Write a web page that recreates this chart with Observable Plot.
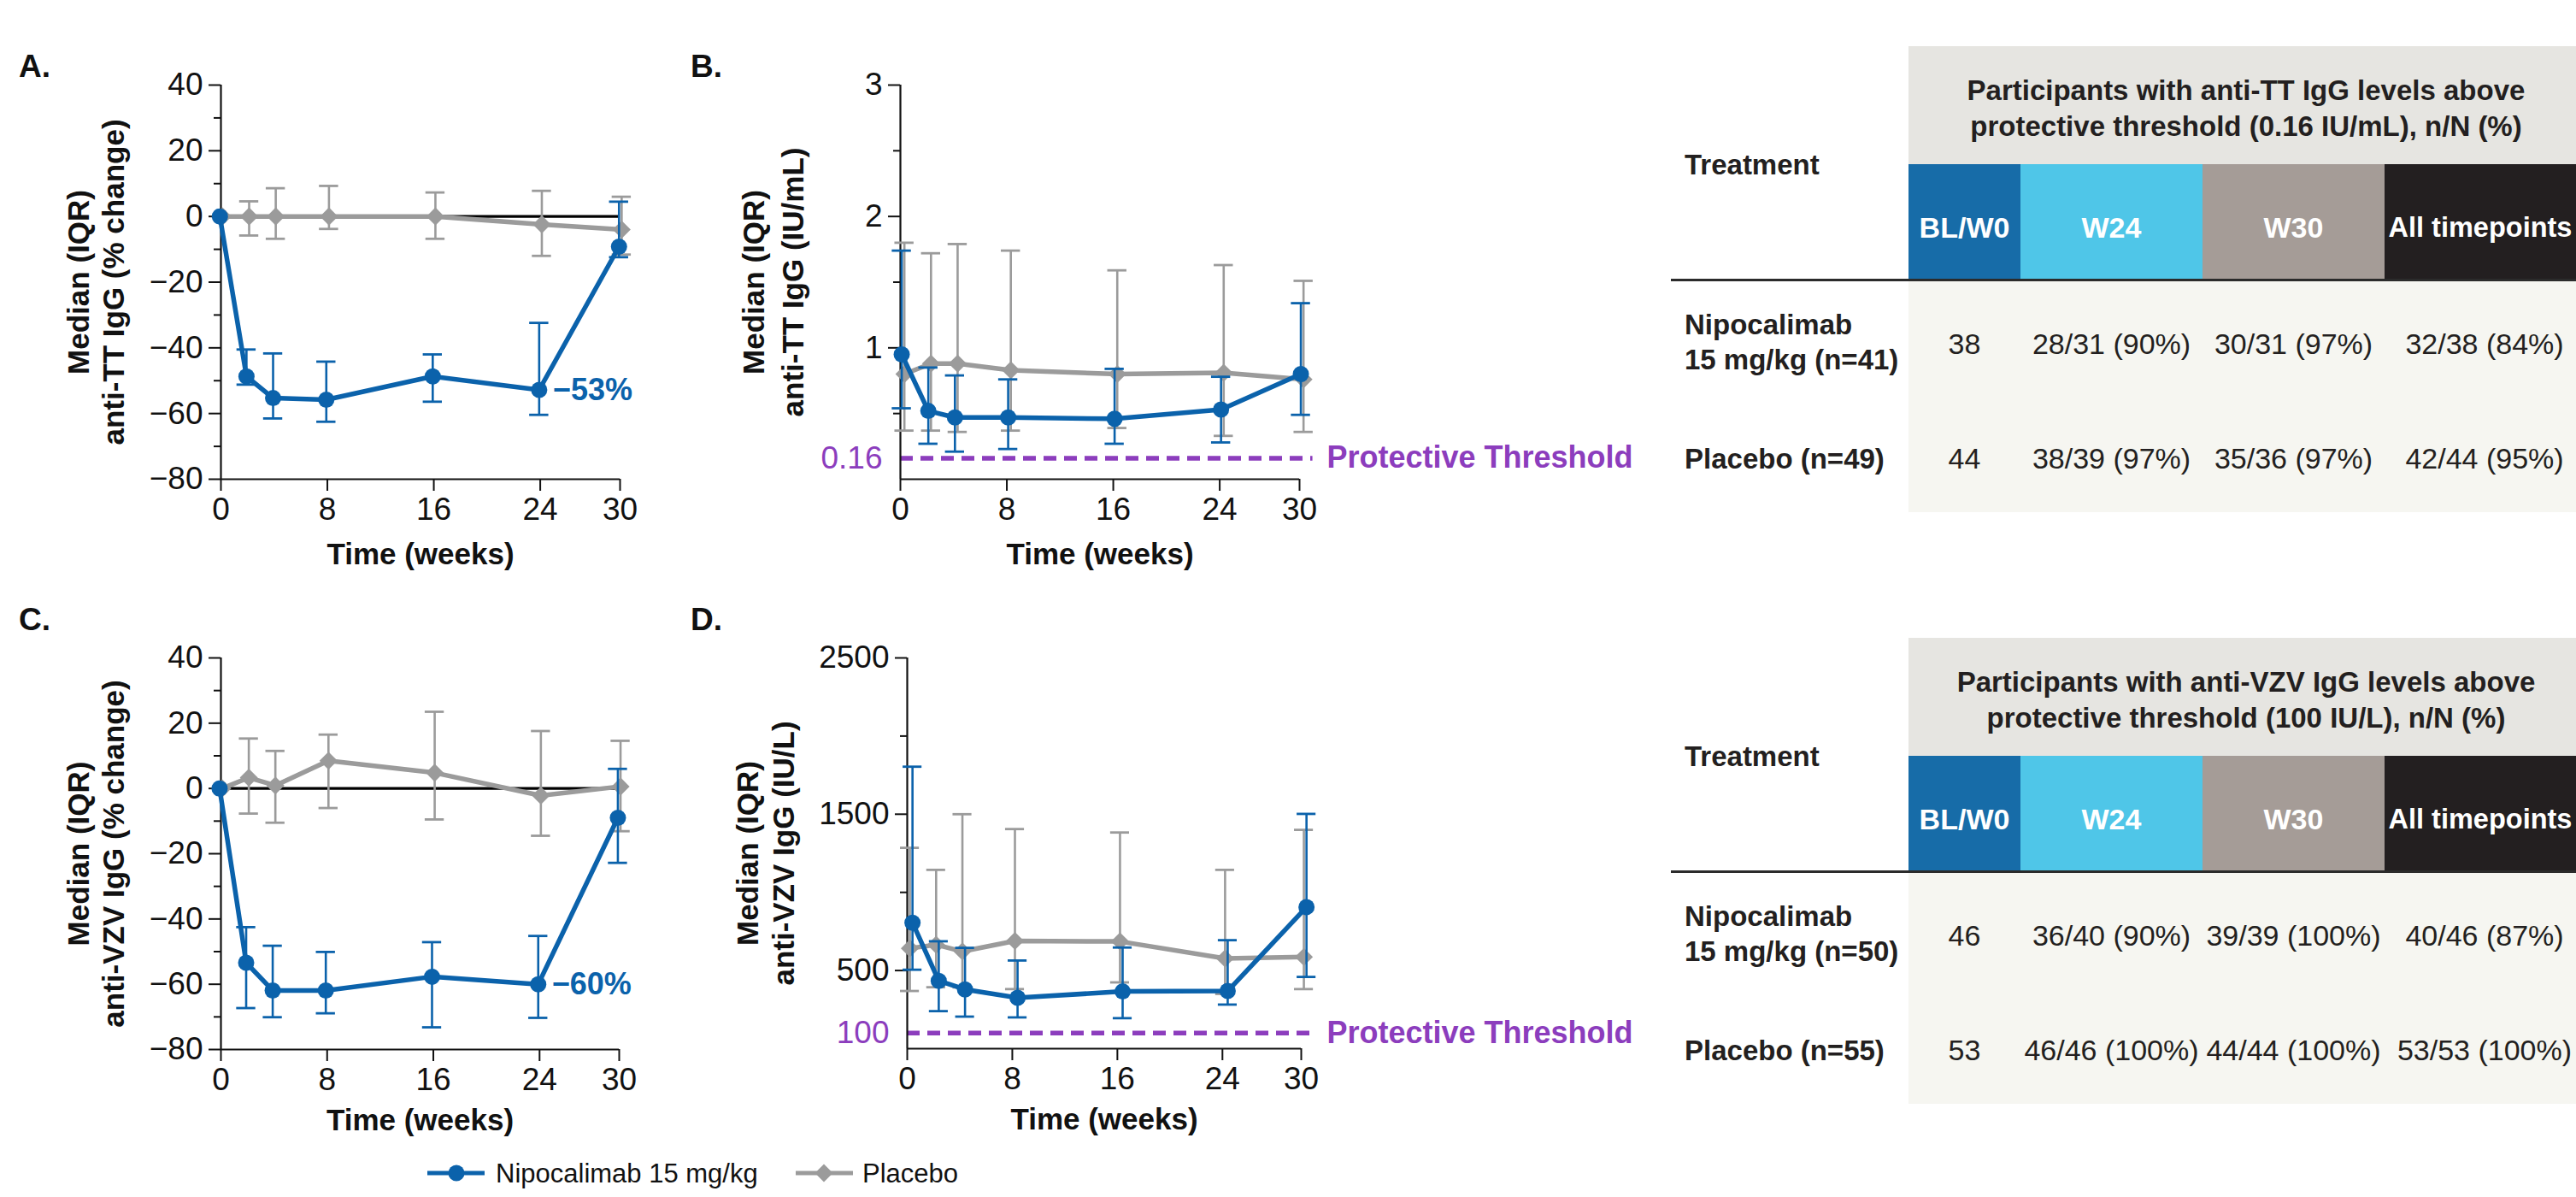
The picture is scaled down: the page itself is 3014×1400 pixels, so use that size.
<!DOCTYPE html>
<html>
<head>
<meta charset="utf-8">
<script src="https://cdn.jsdelivr.net/npm/d3@7"></script>
<script src="https://cdn.jsdelivr.net/npm/@observablehq/plot@0.6"></script>
<style>
html, body { margin: 0; padding: 0; background: #fff; }
#root { position: relative; width: 3014px; height: 1400px; overflow: hidden; background: #fff;
  font-family: "Liberation Sans", Arial, Helvetica, sans-serif; color: #231f20; }
.abs { position: absolute; white-space: nowrap; }
</style>
</head>
<body>
<div id="root"></div>
<script>
// ---------------- DATA ----------------
const weeks = [0, 2, 4, 8, 16, 24, 30];
const xTicks = [0, 8, 16, 24, 30];

// A. anti-TT IgG, % change from baseline (median, Q1, Q3)
const nipoA_med = [0, -48.7, -55.3, -55.8, -48.7, -52.8, -9.2];
const nipoA_lo  = [0, -51.2, -61.5, -62.5, -56.4, -60.4, -12.4];
const nipoA_hi  = [0, -40.5, -41.7, -44.2, -42.0, -32.4, 4.5];
const plaA_med  = [0, 0, 0, 0, 0, -2.4, -4.0];
const plaA_lo   = [0, -5.8, -6.8, -3.8, -6.8, -12.0, -11.6];
const plaA_hi   = [0, 4.6, 8.6, 9.3, 7.3, 7.8, 6.0];

// B. anti-TT IgG, IU/mL
const nipoB_med = [0.95, 0.52, 0.47, 0.47, 0.46, 0.53, 0.80];
const nipoB_lo  = [0.54, 0.27, 0.21, 0.23, 0.27, 0.28, 0.49];
const nipoB_hi  = [1.74, 0.85, 0.79, 0.76, 0.84, 0.78, 1.34];
const plaB_med  = [0.80, 0.88, 0.88, 0.83, 0.80, 0.81, 0.76];
const plaB_lo   = [0.37, 0.37, 0.36, 0.37, 0.39, 0.33, 0.36];
const plaB_hi   = [1.80, 1.72, 1.79, 1.74, 1.59, 1.63, 1.51];

// C. anti-VZV IgG, % change from baseline
const nipoC_med = [0, -53.4, -61.9, -61.9, -57.7, -60.0, -9.0];
const nipoC_lo  = [0, -67.3, -70.1, -68.9, -73.2, -70.3, -22.8];
const nipoC_hi  = [0, -42.5, -48.2, -50.1, -47.1, -45.2, 6.0];
const plaC_med  = [0, 3.3, 0.9, 8.5, 4.8, -2.2, 0.6];
const plaC_lo   = [0, -7.7, -10.5, -6.0, -9.5, -14.5, -13.1];
const plaC_hi   = [0, 15.3, 11.5, 16.5, 23.5, 17.6, 14.6];

// D. anti-VZV IgG, IU/L
const nipoD_med = [806, 434, 379, 325, 366, 369, 906];
const nipoD_lo  = [505, 240, 205, 200, 195, 282, 459];
const nipoD_hi  = [1804, 687, 645, 564, 647, 694, 1502];
const plaD_med  = [642, 665, 622, 689, 686, 577, 587];
const plaD_lo   = [369, 393, 392, 381, 424, 350, 381];
const plaD_hi   = [1285, 1144, 1500, 1405, 1383, 1144, 1400];

// Protective thresholds
const thresholdTT = 0.16;
const thresholdVZV = 100;
const thresholdText = "Protective Threshold";

// Tables
const tableColumns = ["BL/W0", "W24", "W30", "All timepoints"];
const ttTitle = ["Participants with anti-TT IgG levels above", "protective threshold (0.16 IU/mL), n/N (%)"];
const ttRowLabels = [["Nipocalimab", "15 mg/kg (n=41)"], ["Placebo (n=49)"]];
const ttValues = [["38", "28/31 (90%)", "30/31 (97%)", "32/38 (84%)"],
                  ["44", "38/39 (97%)", "35/36 (97%)", "42/44 (95%)"]];
const vzvTitle = ["Participants with anti-VZV IgG levels above", "protective threshold (100 IU/L), n/N (%)"];
const vzvRowLabels = [["Nipocalimab", "15 mg/kg (n=50)"], ["Placebo (n=55)"]];
const vzvValues = [["46", "36/40 (90%)", "39/39 (100%)", "40/46 (87%)"],
                   ["53", "46/46 (100%)", "44/44 (100%)", "53/53 (100%)"]];

const legendLabels = ["Nipocalimab 15 mg/kg", "Placebo"];

// ---------------- STYLE ----------------
const blue = "#0b62ab", gray = "#9b9b9b", purple = "#8c3dbd", ink = "#111111";
const FONT = '"Liberation Sans", Arial, Helvetica, sans-serif';
const root = document.getElementById("root");

function txt(str, x, cy, {fs = 33, weight = 400, color = "#231f20", anchor = "start"} = {}) {
  const el = document.createElement("div");
  el.className = "abs";
  el.textContent = str;
  el.style.fontSize = fs + "px";
  el.style.lineHeight = fs + "px";
  el.style.fontWeight = weight;
  el.style.color = color;
  el.style.top = (cy - 0.49 * fs) + "px";
  if (anchor === "middle") {
    el.style.left = (x - 1000) + "px"; el.style.width = "2000px"; el.style.textAlign = "center";
  } else {
    el.style.left = x + "px";
  }
  root.appendChild(el);
  return el;
}
function box(x, y, w, h, bg) {
  const el = document.createElement("div");
  el.className = "abs";
  Object.assign(el.style, {left: x + "px", top: y + "px", width: w + "px", height: h + "px", background: bg});
  root.appendChild(el);
  return el;
}

function series(name, med, lo, hi) {
  return weeks.map((w, i) => ({name, week: w, med: med[i], lo: lo[i], hi: hi[i]}));
}

function panel(cfg) {
  const mL = 320, mR = 460, mT = 40, mB = 140;
  const w = cfg.R - cfg.L, h = cfg.B - cfg.T;
  const cap = 0.72;
  const nipo = series("nipo", ...cfg.nipo);
  const pla = series("pla", ...cfg.pla);
  const group = (data, color, dodge, dot) => {
    const bars = data.filter(d => d.hi !== d.lo);
    const X = d => d.week + dodge;
    return [
      Plot.ruleX(bars, {x: X, y1: "lo", y2: "hi", stroke: color, strokeWidth: 2.6}),
      Plot.ruleY(bars, {y: "lo", x1: d => X(d) - cap, x2: d => X(d) + cap, stroke: color, strokeWidth: 2.8}),
      Plot.ruleY(bars, {y: "hi", x1: d => X(d) - cap, x2: d => X(d) + cap, stroke: color, strokeWidth: 2.8}),
      Plot.line(data, {x: X, y: "med", stroke: color, strokeWidth: 5.5, strokeLinejoin: "round"}),
      Plot.dot(data, {x: X, y: "med", fill: color, stroke: "none", ...dot})
    ];
  };
  const marks = [];
  if (cfg.zero) marks.push(Plot.ruleY([0], {stroke: "#000", strokeWidth: 3.2}));
  if (cfg.thr !== undefined) {
    marks.push(Plot.ruleY([cfg.thr], {x1: 0, x2: 31, stroke: purple, strokeWidth: 5.5, strokeDasharray: "15,9"}));
    marks.push(Plot.text([cfg.thr], {x: 30, y: d => d, text: () => thresholdText, textAnchor: "start", dx: cfg.thrDx,
      fill: purple, fontWeight: "bold", fontSize: 36}));
    marks.push(Plot.text([cfg.thr], {frameAnchor: "left", y: d => d, text: d => String(d), textAnchor: "end", dx: -21,
      fill: purple, fontSize: 37}));
  }
  marks.push(
    Plot.axisY({ticks: cfg.yMajor, tickSize: 14, tickPadding: 7, fontSize: 37, label: null, strokeWidth: 2,
      tickFormat: d => d < 0 ? "\u2212" + Math.abs(d) : String(d)}),
    Plot.axisY({ticks: cfg.yMinor, tickSize: 8, tickFormat: () => "", label: null, strokeWidth: 2}),
    Plot.axisX({ticks: xTicks, tickSize: 14, tickPadding: 7, fontSize: 37, label: null, strokeWidth: 2}),
    Plot.ruleX([0], {stroke: ink, strokeWidth: 2.2}),
    Plot.ruleY([cfg.yDomain[0]], {stroke: ink, strokeWidth: 2.2}),
    ...group(pla, gray, cfg.dP, {symbol: "diamond2", r: 9.5}),
    ...group(nipo, blue, cfg.dN, {symbol: "circle", r: 9.5}),
    Plot.text(["Time (weeks)"], {text: d => d, frameAnchor: "bottom", dy: cfg.xTitleDy, lineAnchor: "middle",
      textAnchor: "middle", fontSize: 35, fontWeight: "bold", fill: ink}),
    Plot.text([cfg.titles[0]], {text: d => d, frameAnchor: "left", rotate: -90, dx: cfg.tdx[0],
      textAnchor: "middle", lineAnchor: "middle", fontSize: 35, fontWeight: "bold", fill: ink}),
    Plot.text([cfg.titles[1]], {text: d => d, frameAnchor: "left", rotate: -90, dx: cfg.tdx[1],
      textAnchor: "middle", lineAnchor: "middle", fontSize: 35, fontWeight: "bold", fill: ink})
  );
  if (cfg.endLabel) {
    marks.push(Plot.text(nipo.filter(d => d.week === 24), {
      x: d => d.week + cfg.dN, y: "med", text: d => "\u2212" + Math.abs(Math.round(d.med)) + "%",
      textAnchor: "start", dx: 16, fill: blue, fontWeight: "bold", fontSize: 36}));
  }
  const svg = Plot.plot({
    width: w + mL + mR, height: h + mT + mB,
    marginLeft: mL, marginRight: mR, marginTop: mT, marginBottom: mB,
    x: {domain: [0, 30]},
    y: {domain: cfg.yDomain},
    style: {background: "transparent", fontFamily: FONT, color: ink, overflow: "visible", maxWidth: "none"},
    marks
  });
  svg.style.position = "absolute";
  svg.style.left = (cfg.L - mL) + "px";
  svg.style.top = (cfg.T - mT) + "px";
  root.appendChild(svg);
  txt(cfg.letter, cfg.letterX, cfg.letterY, {fs: 37, weight: 700, color: ink});
}

panel({letter: "A.", letterX: 22, letterY: 77, L: 258, R: 725, T: 99, B: 560, yDomain: [-80, 40],
  yMajor: [40, 20, 0, -20, -40, -60, -80], yMinor: [30, 10, -10, -30, -50, -70],
  nipo: [nipoA_med, nipoA_lo, nipoA_hi], pla: [plaA_med, plaA_lo, plaA_hi], dN: -0.08, dP: 0.12,
  zero: true, endLabel: true, titles: ["Median (IQR)", "anti-TT IgG (% change)"], tdx: [-166, -125], xTitleDy: 88});

panel({letter: "B.", letterX: 808, letterY: 77, L: 1053, R: 1520, T: 99, B: 560, yDomain: [0, 3],
  yMajor: [3, 2, 1], yMinor: [2.5, 1.5, 0.5], thr: thresholdTT, thrDx: 32,
  nipo: [nipoB_med, nipoB_lo, nipoB_hi], pla: [plaB_med, plaB_lo, plaB_hi], dN: 0.1, dP: 0.3,
  titles: ["Median (IQR)", "anti-TT IgG (IU/mL)"], tdx: [-171, -125], xTitleDy: 88});

panel({letter: "C.", letterX: 22, letterY: 724, L: 258, R: 724, T: 769, B: 1227, yDomain: [-80, 40],
  yMajor: [40, 20, 0, -20, -40, -60, -80], yMinor: [30, 10, -10, -30, -50, -70],
  nipo: [nipoC_med, nipoC_lo, nipoC_hi], pla: [plaC_med, plaC_lo, plaC_hi], dN: -0.1, dP: 0.1,
  zero: true, endLabel: true, titles: ["Median (IQR)", "anti-VZV IgG (% change)"], tdx: [-166, -125], xTitleDy: 83});

panel({letter: "D.", letterX: 808, letterY: 724, L: 1061, R: 1522, T: 769, B: 1226, yDomain: [0, 2500],
  yMajor: [2500, 1500, 500], yMinor: [2000, 1000], thr: thresholdVZV, thrDx: 30,
  nipo: [nipoD_med, nipoD_lo, nipoD_hi], pla: [plaD_med, plaD_lo, plaD_hi], dN: 0.4, dP: 0.2,
  titles: ["Median (IQR)", "anti-VZV IgG (IU/L)"], tdx: [-186, -144], xTitleDy: 83});

// ---------------- TABLES ----------------
const colEdges = [2233, 2364, 2577, 2790, 3024];
const colColors = ["#176ca8", "#4fc6e8", "#a59c97", "#231f20"];

function table(dy, title, rowLabels, values) {
  box(colEdges[0], 54 + dy, 3014 - colEdges[0], 138, "#e6e5e1");
  txt(title[0], 2628, 105 + dy, {fs: 33, weight: 700, anchor: "middle"});
  txt(title[1], 2628, 147 + dy, {fs: 33, weight: 700, anchor: "middle"});
  txt("Treatment", 1971, 192 + dy, {fs: 33, weight: 700});
  tableColumns.forEach((c, i) => {
    box(colEdges[i], 192 + dy, Math.min(colEdges[i + 1], 3014) - colEdges[i], 135, colColors[i]);
    const last = i === tableColumns.length - 1;
    const cx = last ? (colEdges[i] + 3014) / 2 : (colEdges[i] + colEdges[i + 1]) / 2;
    txt(c, cx, 266 + dy, {fs: last ? 32.5 : 34, weight: 700, color: "#ffffff", anchor: "middle"});
  });
  box(colEdges[0], 327 + dy, 3014 - colEdges[0], 272, "#f6f6f1");
  box(1955, 326 + dy, 3014 - 1955, 3, "#2b2b2b");
  const rowY = [402, 536];
  rowLabels.forEach((lab, r) => {
    if (lab.length === 2) {
      txt(lab[0], 1971, rowY[r] - 23 + dy, {fs: 33, weight: 700});
      txt(lab[1], 1971, rowY[r] + 18 + dy, {fs: 33, weight: 700});
    } else {
      txt(lab[0], 1971, rowY[r] + dy, {fs: 33, weight: 700});
    }
    values[r].forEach((v, i) => {
      txt(v, (colEdges[i] + colEdges[i + 1]) / 2, rowY[r] + dy, {fs: 34, weight: 400, anchor: "middle"});
    });
  });
}
table(0, ttTitle, ttRowLabels, ttValues);
table(692, vzvTitle, vzvRowLabels, vzvValues);

// ---------------- LEGEND ----------------
(function legend() {
  const NS = "http://www.w3.org/2000/svg";
  const svg = document.createElementNS(NS, "svg");
  svg.setAttribute("width", 700); svg.setAttribute("height", 60);
  Object.assign(svg.style, {position: "absolute", left: "480px", top: "1342px", overflow: "visible"});
  const cy = 30;
  const add = (tag, attrs) => { const e = document.createElementNS(NS, tag); for (const k in attrs) e.setAttribute(k, attrs[k]); svg.appendChild(e); };
  add("line", {x1: 20, x2: 87, y1: cy, y2: cy, stroke: blue, "stroke-width": 5});
  add("circle", {cx: 54, cy, r: 9.5, fill: blue});
  add("line", {x1: 451, x2: 518, y1: cy, y2: cy, stroke: gray, "stroke-width": 5});
  const r = 10.5;
  add("path", {d: `M${484},${cy - r}L${484 + r},${cy}L${484},${cy + r}L${484 - r},${cy}Z`, fill: gray});
  root.appendChild(svg);
  txt(legendLabels[0], 580, 1372, {fs: 31, color: ink});
  txt(legendLabels[1], 1009, 1372, {fs: 31, color: ink});
})();
</script>
</body>
</html>
